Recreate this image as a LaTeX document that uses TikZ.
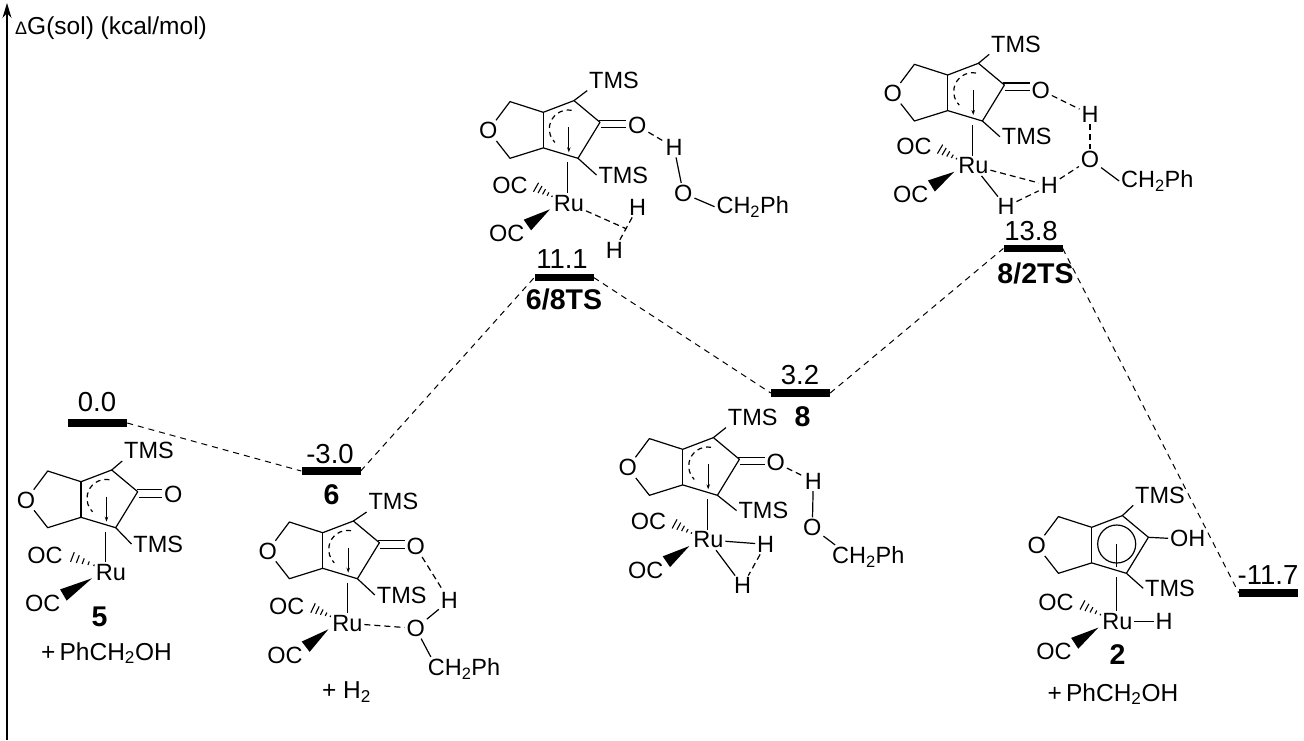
\documentclass[tikz,border=0pt]{standalone}
\usepackage{fontspec}
\setmainfont{Liberation Sans}
\usetikzlibrary{calc,arrows.meta}
\tikzset{
  lab/.style={font=\fontsize{23.5}{25}\selectfont,inner sep=0pt,outer sep=2pt},
  extra/.style={font=\fontsize{24.5}{26}\selectfont,inner sep=0pt},
  num/.style={font=\fontsize{27.5}{29}\selectfont,inner sep=0pt},
  cmpd/.style={font=\fontsize{28.5}{30}\selectfont\bfseries,inner sep=0pt},
  bond/.style={line width=1.2pt,line join=round},
  hbond/.style={line width=1.2pt,dash pattern=on 6pt off 4pt},
  level/.style={fill=black,inner sep=0pt,minimum width=59pt,minimum height=7.5pt},
  link/.style={line width=1pt,dash pattern=on 6pt off 5pt}
}
\newcommand\ringframe[3]{%
  \coordinate (#1ct) at (-33.3,-10.7);
  \coordinate (#1c3) at (0,0);
  \coordinate (#1c4) at (30.7,-11.7);
  \coordinate (#1co) at (56.7,10);
  \coordinate (#1cb) at (34.7,46);
  \coordinate (#1c6) at (0,35.6);
  \coordinate (#1cc) at (-33.3,46);
  \node[lab] (#1O) at (-55,18.3) {O};
  \node[lab] (#1Ta) at (#2) {TMS};
  \node[lab] (#1Tb) at (#3) {TMS};
  \draw[bond] (#1O) -- (#1ct) -- (#1c3) -- (#1c4) -- (#1co) -- (#1cb) -- (#1c6) -- (#1cc) -- (#1O);
  \draw[bond] (#1c3) -- (#1c6);
  \draw[bond] (#1c4) -- (#1Ta.south west);
  \draw[bond] (#1cb) -- (#1Tb.west);
}
\newcommand\ketone[2]{%
  \node[lab] (#1Oc) at (#2) {O};
  \coordinate (#1dba) at ($(#1co)+(-1,-2)$);
  \coordinate (#1dbb) at ($(#1co)+(1,5.5)$);
  \draw[bond] (#1dba) -- (#1dba -| #1Oc.west);
  \draw[bond] (#1dbb) -- (#1dbb -| #1Oc.west);
  \coordinate (#1ctr) at (25,16.7);
  \draw[bond,dash pattern=on 5pt off 4pt] ($(#1ctr)+(80:19pt)$) arc[start angle=80,end angle=225,radius=19pt];
  \coordinate (#1aa) at (25.5,15);
  \coordinate (#1ab) at (25.5,40);
  \draw[bond,-{Stealth[length=5pt,width=3.5pt]}] (#1aa) -- (#1ab);
}
\newcommand\ruunit[4]{%
  \node[lab] (#1Ru) at (#2) {Ru};
  \node[lab] (#1OCu) at (#3) {OC};
  \node[lab] (#1OCl) at (#4) {OC};
  \coordinate (#1rl) at (24.5,50);
  \draw[bond] (#1rl) -- (#1rl |- #1Ru.north);
  \coordinate (#1ha) at ($(#1Ru)+(-17,-7)$);
  \coordinate (#1hb) at ($(#1OCu)+(22,0)$);
  \foreach \t/\w in {0/0.8,0.2/1.9,0.4/3,0.6/4.1,0.8/5.2,1/6.3}
    \draw[line width=1.1pt] ($(#1ha)!\t!(#1hb)!\w pt!90:(#1hb)$) -- ($(#1ha)!\t!(#1hb)!\w pt!-90:(#1hb)$);
  \coordinate (#1wt) at ($(#1Ru)+(-19,6)$);
  \coordinate (#1wb) at ($(#1OCl)+(20.7,-8.3)$);
  \fill ($(#1wb)!6.5pt!90:(#1wt)$) -- (#1wt) -- ($(#1wb)!6.5pt!-90:(#1wt)$) -- cycle;
}
\begin{document}
\begin{tikzpicture}[x=1pt,y=-1pt]
\useasboundingbox (0,0) rectangle (1304,740);
\fill[white] (0,0) rectangle (1304,740);
% axis
\coordinate (axb) at (7,740);
\coordinate (axt) at (7,3);
\draw[line width=1.1pt,-{Stealth[length=15pt,width=9pt]}] (axb) -- (axt);
\node[extra,anchor=base west] (axl) at (15,34) {{\fontsize{18}{19}\selectfont Δ}G(sol) (kcal/mol)};
% levels
\node[level] (L0) at (97.5,423) {};
\node[level] (L6) at (331,471) {};
\node[level] (L68) at (564,277.5) {};
\node[level] (L8) at (800.5,393) {};
\node[level] (L82) at (1033,248.5) {};
\node[level] (L2) at (1268.5,593) {};
\node[num] (E0) at (97,402) {0.0};
\node[num] (E6) at (330,454) {-3.0};
\node[num] (E68) at (562,259) {11.1};
\node[num] (E8) at (800,375) {3.2};
\node[num] (E82) at (1031,231) {13.8};
\node[num] (E2) at (1268,575) {-11.7};
\draw[link] (L0.east) -- (L6.west);
\draw[link] (L6.east) -- (L68.west);
\draw[link] (L68.east) -- (L8.west);
\draw[link] (L8.east) -- (L82.west);
\draw[link] (L82.east) -- (L2.west);
\node[cmpd] (n5) at (99.5,617) {5};
\node[cmpd] (n6) at (331.5,495) {6};
\node[cmpd] (n68) at (564,299) {6/8TS};
\node[cmpd] (n8) at (802.5,417) {8};
\node[cmpd] (n82) at (1035.5,273) {8/2TS};
\node[cmpd] (n2) at (1117.5,655) {2};
\node[extra] (p5) at (106.5,653) {+\,PhCH\textsubscript{2}OH};
\node[extra] (p6) at (346.5,692) {+ H\textsubscript{2}};
\node[extra] (p2) at (1113,694) {+\,PhCH\textsubscript{2}OH};
% compound 5
\begin{scope}[shift={(81,481.7)}]
  \ringframe{a}{68,-31}{77.3,62.3}
  \ketone{a}{92.3,12.6}
  \ruunit{a}{30,90.6}{-36,73.3}{-38.3,121.6}
\end{scope}
% compound 6
\begin{scope}[shift={(322.7,532.7)}]
  \ringframe{b}{70.7,-31}{79,62.3}
  \ketone{b}{93,14}
  \ruunit{b}{24.7,90.6}{-36,73.3}{-37.7,122.3}
  \node[lab] (bH) at (126.6,68) {H};
  \node[lab] (bO) at (93,95.6) {O};
  \node[lab] (bCH) at (141.3,136.6) {CH\textsubscript{2}Ph};
  \draw[hbond] (bOc) -- (bH);
  \draw[bond] (bO) -- (bH);
  \draw[hbond] (bRu) -- (bO);
  \draw[bond] (bO) -- ([xshift=5pt]bCH.north west);
\end{scope}
% TS 6/8
\begin{scope}[shift={(543.3,112.3)}]
  \ringframe{c}{70.7,-32}{80,62.7}
  \ketone{c}{94,13.4}
  \ruunit{c}{25.7,91}{-33.3,72.7}{-36.6,121}
  \node[lab] (cH) at (130.7,35) {H};
  \node[lab] (cO) at (140,81) {O};
  \node[lab] (cCH) at (209.4,94.4) {CH\textsubscript{2}Ph};
  \node[lab] (cHa) at (94.4,95) {H};
  \node[lab] (cHb) at (71,137.7) {H};
  \coordinate (cmid) at ($(cHa)!0.5!(cHb)$);
  \draw[hbond] (cOc) -- (cH);
  \draw[bond] (cH) -- (cO);
  \draw[bond] (cO) -- (cCH.west);
  \draw[hbond] (cRu) -- (cmid);
  \draw[hbond] (cHa) -- (cHb);
\end{scope}
% compound 8
\begin{scope}[shift={(682.7,449.3)}]
  \ringframe{d}{70,-32}{80.7,61.3}
  \ketone{d}{93,13.3}
  \ruunit{d}{25.7,90.7}{-34.3,72.3}{-37,120.7}
  \node[lab] (dH) at (130.6,31.7) {H};
  \node[lab] (dO) at (129.6,78.4) {O};
  \node[lab] (dCH) at (185.6,108) {CH\textsubscript{2}Ph};
  \node[lab] (dHa) at (83,95) {H};
  \node[lab] (dHb) at (60,136.4) {H};
  \draw[hbond] (dOc) -- (dH);
  \draw[bond] (dH) -- (dO);
  \draw[bond] (dO) -- ([xshift=5pt]dCH.north west);
  \draw[bond] (dRu) -- (dHa);
  \draw[bond] (dRu) -- (dHb);
  \draw[hbond] (dHa) -- (dHb);
\end{scope}
% TS 8/2
\begin{scope}[shift={(947.7,75)}]
  \ringframe{e}{68.3,-31}{79,61.7}
  \ketone{e}{93,15}
  \ruunit{e}{25.7,90.7}{-33.7,71.7}{-37,119.3}
  \node[lab] (eH) at (142.3,39.3) {H};
  \node[lab] (eO) at (142.3,84.3) {O};
  \node[lab] (eCH) at (209.6,106) {CH\textsubscript{2}Ph};
  \node[lab] (eHc) at (101.6,110.7) {H};
  \node[lab] (eHd) at (58.3,131.7) {H};
  \draw[hbond] (eOc) -- (eH);
  \draw[hbond] (eH) -- (eO);
  \draw[bond] (eO) -- (eCH.west);
  \draw[hbond] (eHc) -- (eO);
  \draw[hbond] (eRu) -- (eHc);
  \draw[bond] (eRu) -- (eHd);
  \draw[hbond] (eHd) -- (eHc);
\end{scope}
% compound 2
\begin{scope}[shift={(1091.7,527.3)}]
  \ringframe{f}{68.3,-32.3}{78.3,61}
  \node[lab] (fOH) at (96,11) {OH};
  \draw[bond] (fco) -- (fOH.west);
  \coordinate (fctr) at (25,16.7);
  \draw[bond] (fctr) circle[radius=19pt];
  \coordinate (fv) at (25,40);
  \draw[bond] (fctr) -- (fv);
  \ruunit{f}{25.7,94.3}{-35.7,75.3}{-37.7,124.3}
  \node[lab] (fH) at (72.3,94.3) {H};
  \draw[bond] (fRu) -- (fH);
\end{scope}
\end{tikzpicture}
\end{document}
